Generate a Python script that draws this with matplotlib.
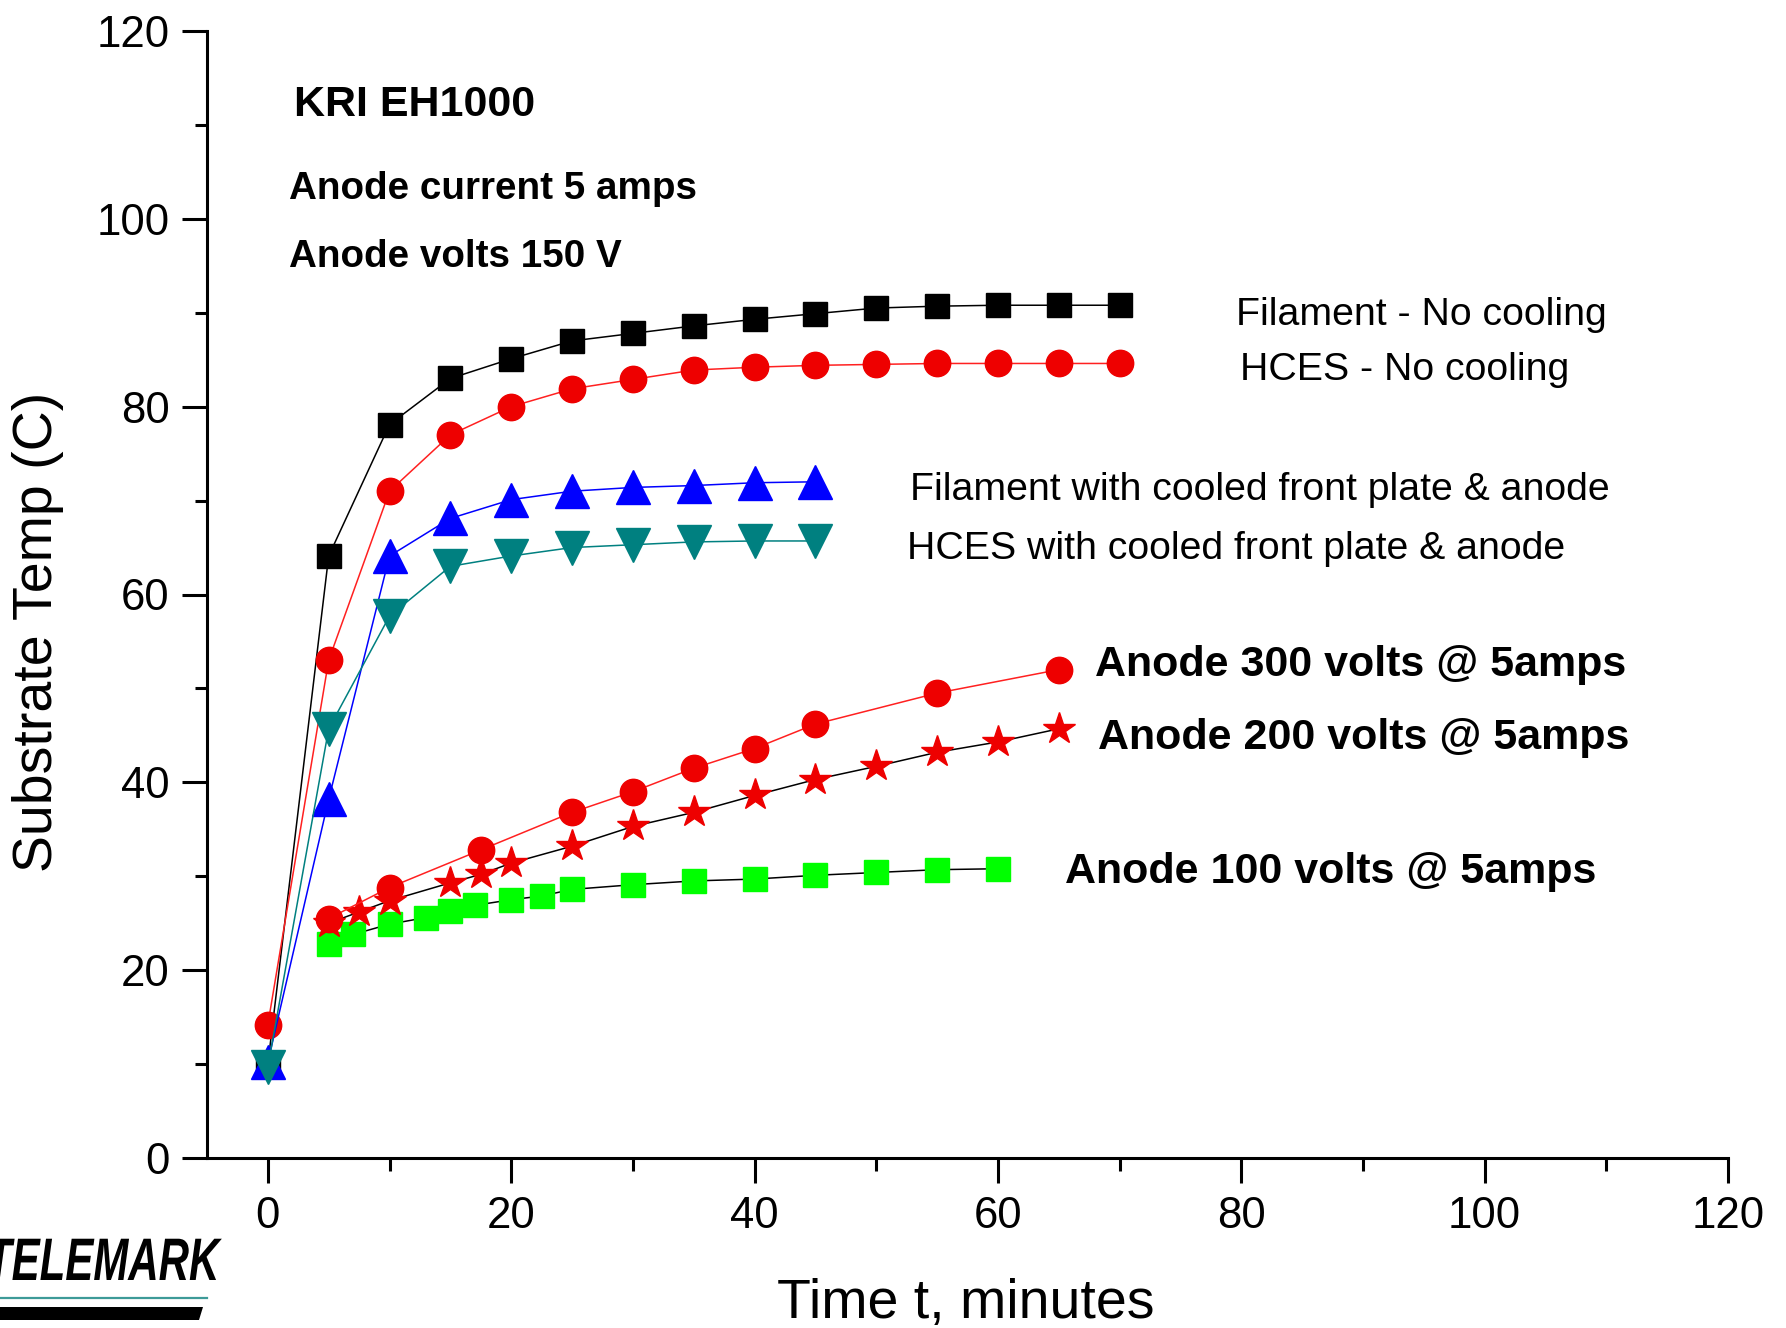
import matplotlib
matplotlib.use('Agg')
import matplotlib.pyplot as plt
from matplotlib.ticker import MultipleLocator
from matplotlib.textpath import TextPath
from matplotlib.patches import PathPatch, Polygon
from matplotlib.font_manager import FontProperties
from matplotlib.transforms import Affine2D, IdentityTransform
from matplotlib.lines import Line2D

plt.rcParams['font.family'] = ['Liberation Sans', 'DejaVu Sans']

# ---- data ----
t_long = [0, 5, 10, 15, 20, 25, 30, 35, 40, 45, 50, 55, 60, 65, 70]
fil_nocool = [10.0, 64.1, 78.1, 83.0, 85.1, 87.0, 87.8, 88.6, 89.3, 89.9, 90.5, 90.7, 90.8, 90.8, 90.8]
hces_nocool = [14.2, 53.0, 71.0, 77.0, 80.0, 81.9, 82.9, 83.9, 84.2, 84.4, 84.5, 84.6, 84.6, 84.6, 84.6]

t_cool = [0, 5, 10, 15, 20, 25, 30, 35, 40, 45]
fil_cool = [10.2, 38.2, 64.1, 68.1, 70.1, 71.0, 71.4, 71.6, 71.9, 72.0]
hces_cool = [9.7, 45.7, 57.7, 63.0, 64.1, 65.0, 65.3, 65.6, 65.7, 65.7]

t_300 = [5, 10, 17.5, 25, 30, 35, 40, 45, 55, 65]
v300 = [25.5, 28.8, 32.8, 36.8, 39.0, 41.5, 43.6, 46.2, 49.5, 52.0]

t_200 = [5, 7.5, 10, 15, 17.5, 20, 25, 30, 35, 40, 45, 50, 55, 60, 65]
v200 = [25.0, 26.2, 27.4, 29.3, 30.2, 31.4, 33.2, 35.3, 36.8, 38.6, 40.3, 41.7, 43.2, 44.3, 45.7]

t_100 = [5, 7, 10, 13, 15, 17, 20, 22.5, 25, 30, 35, 40, 45, 50, 55, 60]
v100 = [22.8, 23.8, 24.9, 25.6, 26.3, 26.9, 27.5, 27.9, 28.6, 29.1, 29.5, 29.7, 30.1, 30.4, 30.7, 30.8]

W, H = 1786, 1328
fig = plt.figure(figsize=(W / 100, H / 100), dpi=100)
ax = fig.add_axes([207 / W, 1 - 1158 / H, (1728 - 207) / W, (1158 - 31) / H])

lw = 1.1
ax.plot(t_long, fil_nocool, color='black', lw=lw, marker='s', ms=17.5, mfc='black', mec='black', zorder=3)
ax.plot(t_long, hces_nocool, color='#ff2020', lw=lw, marker='o', ms=19, mfc='#ee0000', mec='#ee0000', zorder=3)
ax.plot(t_cool, fil_cool, color='blue', lw=lw, marker='^', ms=24, mfc='blue', mec='blue', zorder=3)
ax.plot(t_cool, hces_cool, color='#008080', lw=lw, marker='v', ms=24, mfc='#008080', mec='#008080', zorder=3)
ax.plot(t_100, v100, color='black', lw=lw, marker='s', ms=17.5, mfc='#00ff00', mec='#00ff00', zorder=3)
ax.plot(t_200, v200, color='black', lw=lw, marker='*', ms=24, mfc='#ee0000', mec='#ee0000', zorder=3)
ax.plot(t_300, v300, color='#ff2020', lw=lw, marker='o', ms=19, mfc='#ee0000', mec='#ee0000', zorder=3)

ax.set_xlim(-5, 120)
ax.set_ylim(0, 120)
ax.xaxis.set_major_locator(MultipleLocator(20))
ax.xaxis.set_minor_locator(MultipleLocator(10))
ax.yaxis.set_major_locator(MultipleLocator(20))
ax.yaxis.set_minor_locator(MultipleLocator(10))
for s in ['top', 'right']:
    ax.spines[s].set_visible(False)
for s in ['left', 'bottom']:
    ax.spines[s].set_linewidth(2.2)
ax.tick_params(which='major', direction='out', length=18, width=2.2, labelsize=31.5, pad=9)
ax.tick_params(which='minor', direction='out', length=9, width=2.2)

# axis labels
fig.text(38 / W, 1 - 632 / H, 'Substrate Temp (C)', rotation=90, ha='center', va='center', fontsize=40)
fig.text(966 / W, 10 / H, 'Time t, minutes', ha='center', va='baseline', fontsize=40)

# annotations (data coords, baseline)
ax.text(2.15, 110.9, 'KRI EH1000', fontsize=31, fontweight='bold', va='baseline')
ax.text(1.7, 102.1, 'Anode current 5 amps', fontsize=27.8, fontweight='bold', va='baseline')
ax.text(1.7, 94.9, 'Anode volts 150 V', fontsize=27.8, fontweight='bold', va='baseline')
ax.text(79.6, 88.7, 'Filament - No cooling', fontsize=28.3, va='baseline')
ax.text(79.9, 82.8, 'HCES - No cooling', fontsize=28.3, va='baseline')
ax.text(52.8, 70.1, 'Filament with cooled front plate & anode', fontsize=28.3, va='baseline')
ax.text(52.5, 63.8, 'HCES with cooled front plate & anode', fontsize=28.3, va='baseline')
ax.text(68.0, 51.3, 'Anode 300 volts @ 5amps', fontsize=31, fontweight='bold', va='baseline')
ax.text(68.2, 43.5, 'Anode 200 volts @ 5amps', fontsize=31, fontweight='bold', va='baseline')
ax.text(65.5, 29.3, 'Anode 100 volts @ 5amps', fontsize=31, fontweight='bold', va='baseline')

# TELEMARK logo
fp = FontProperties(family='Liberation Sans', weight='bold', style='italic')
tp = TextPath((0, 0), 'TELEMARK', size=60, prop=fp)
tr = Affine2D().scale(0.7, 1.0).translate(-14, H - 1280)
logo = PathPatch(tr.transform_path(tp), facecolor='black', edgecolor='none', transform=IdentityTransform())
fig.add_artist(logo)
fig.add_artist(Line2D([0, 207], [H - 1298, H - 1298], color='#3d9a98', lw=1.6, transform=IdentityTransform()))
fig.add_artist(Polygon([(0, H - 1307), (203, H - 1307), (199, H - 1320), (0, H - 1320)], closed=True,
                       facecolor='black', edgecolor='none', transform=IdentityTransform()))

fig.savefig('out.png', dpi=100)
